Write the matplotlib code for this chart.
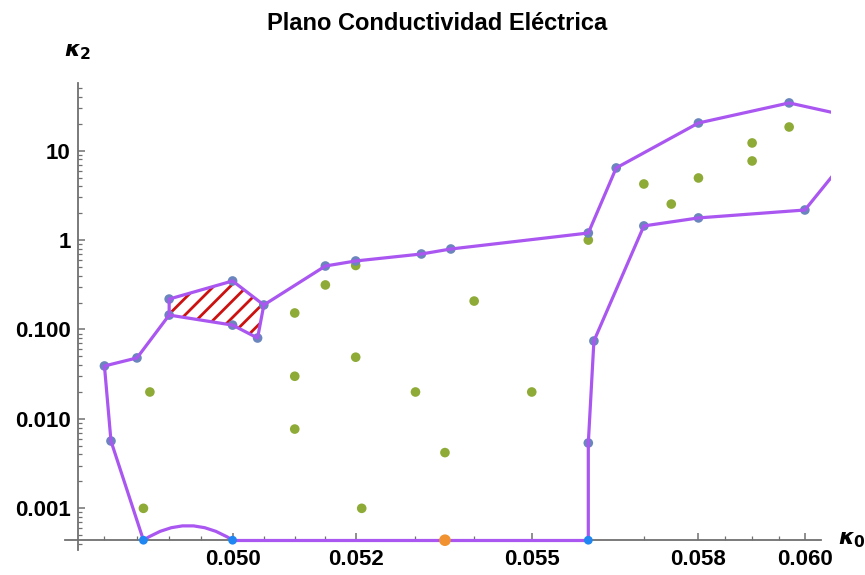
import matplotlib.pyplot as plt
from matplotlib.patches import Polygon, PathPatch
from matplotlib.path import Path
from matplotlib.ticker import FixedLocator, FixedFormatter, NullFormatter, LogLocator
import numpy as np

plt.rcParams['font.family'] = ['Liberation Sans', 'DejaVu Sans']
plt.rcParams['font.weight'] = 'bold'
plt.rcParams['hatch.linewidth'] = 2.0

# valor de k2 donde se dibuja el eje (puntos con k2 = 0)
k2_piso = 0.00044

# muestras interiores
k0_verde = [0.0486, 0.0487, 0.0510, 0.0510, 0.0510, 0.0515, 0.0520, 0.0520, 0.0521, 0.0530,
            0.0535, 0.0540, 0.0550, 0.0560, 0.0570, 0.0575, 0.0580, 0.0590, 0.0590, 0.0597]
k2_verde = [0.0010, 0.020, 0.153, 0.030, 0.0077, 0.315, 0.52, 0.049, 0.0010, 0.020,
            0.0042, 0.208, 0.020, 1.00, 4.24, 2.53, 4.95, 12.2, 7.67, 18.4]

# frontera superior, de derecha a izquierda hasta el eje
k0_sup = [0.0610, 0.0597, 0.0580, 0.0565, 0.0560, 0.0536, 0.0531, 0.0520, 0.0515,
          0.0505, 0.0500, 0.0490, 0.0490, 0.0485, 0.0480, 0.0481, 0.0486]
k2_sup = [23.3, 34.2, 20.4, 6.41, 1.20, 0.795, 0.699, 0.584, 0.513,
          0.188, 0.349, 0.219, 0.145, 0.0481, 0.0391, 0.00566, k2_piso]

# cierre inferior del lazo rayado
k0_lazo = [0.0490, 0.0500, 0.0504, 0.0505]
k2_lazo = [0.145, 0.112, 0.0803, 0.188]

# frontera inferior derecha
k0_inf = [0.0560, 0.0560, 0.0561, 0.0570, 0.0580, 0.0600, 0.0610]
k2_inf = [k2_piso, 0.00538, 0.0744, 1.44, 1.77, 2.17, 11.3]

# tramo sobre el eje y arco entre 0.0486 y 0.0500
k0_base = [0.0500, 0.0560]
k0_arco = [0.0486, 0.0500]
k2_arco_max = 0.00064

k0_eje_azul = [0.0486, 0.0500, 0.0560]
k0_eje_naranja = [0.0535]

x_ticks = [0.050, 0.052, 0.055, 0.058, 0.060]
x_labels = ['0.050', '0.052', '0.055', '0.058', '0.060']
x_minor = [0.048, 0.0485, 0.049, 0.0495, 0.0505, 0.051, 0.0515, 0.053, 0.054,
           0.056, 0.057, 0.0585, 0.059, 0.0595]
y_ticks = [0.001, 0.01, 0.1, 1, 10]
y_labels = ['0.001', '0.010', '0.100', '1', '10']

morado = '#a957f0'
azul_gris = '#6a86bd'

fig = plt.figure(figsize=(8.65, 5.75), dpi=100)
ax = fig.add_axes([0.0751, 0.0431, 0.8855, 0.8124])
ax.set_xscale('log')
ax.set_yscale('log')
ax.set_xlim(0.0474, 0.0605)
ax.set_ylim(0.00034, 57)

# zona rayada
lazo = list(zip(k0_sup[9:13], k2_sup[9:13])) + list(zip(k0_lazo[1:3], k2_lazo[1:3]))
ax.add_patch(Polygon(lazo, closed=True, facecolor='none', edgecolor='#cc1111',
                     linewidth=0, hatch='//', zorder=1))

# puntos
ax.scatter(k0_verde, k2_verde, s=48, color='#8dab36', edgecolors='none', zorder=2)
ax.scatter(k0_sup[1:-1] + k0_lazo[1:3] + k0_inf[1:-1],
           k2_sup[1:-1] + k2_lazo[1:3] + k2_inf[1:-1],
           s=48, color=azul_gris, edgecolors='none', zorder=2)

# fronteras
lw = 2.3
ax.plot(k0_sup, k2_sup, color=morado, lw=lw, zorder=3, solid_joinstyle='round')
ax.plot(k0_lazo, k2_lazo, color=morado, lw=lw, zorder=3, solid_joinstyle='round')
ax.plot(k0_inf, k2_inf, color=morado, lw=lw, zorder=3, solid_joinstyle='round')
ax.plot(k0_base, [k2_piso, k2_piso], color=morado, lw=lw, zorder=3)

# arco cuadrático (el punto de control se calcula en escala log)
k0_medio = np.sqrt(k0_arco[0] * k0_arco[1])
k2_ctrl = 10 ** (2 * np.log10(k2_arco_max) - np.log10(k2_piso))
arco = Path([(k0_arco[0], k2_piso), (k0_medio, k2_ctrl), (k0_arco[1], k2_piso)],
            [Path.MOVETO, Path.CURVE3, Path.CURVE3])
ax.add_patch(PathPatch(arco, facecolor='none', edgecolor=morado, lw=lw, zorder=3))

ax.scatter(k0_eje_azul, [k2_piso] * len(k0_eje_azul), s=40, color='#1f86f2',
           edgecolors='none', zorder=4, clip_on=False)
ax.scatter(k0_eje_naranja, [k2_piso] * len(k0_eje_naranja), s=70, color='#f0922f',
           edgecolors='none', zorder=4, clip_on=False)

# ejes estilo cruzado
for s in ['top', 'right']:
    ax.spines[s].set_visible(False)
ax.spines['left'].set_position(('data', 0.04759))
ax.spines['bottom'].set_position(('data', k2_piso))
ax.spines['bottom'].set_bounds(0.0474, 0.0603)
for s in ['left', 'bottom']:
    ax.spines[s].set_color('#707070')
    ax.spines[s].set_linewidth(1.3)

ax.xaxis.set_major_locator(FixedLocator(x_ticks))
ax.xaxis.set_major_formatter(FixedFormatter(x_labels))
ax.xaxis.set_minor_locator(FixedLocator(x_minor))
ax.xaxis.set_minor_formatter(NullFormatter())
ax.yaxis.set_major_locator(FixedLocator(y_ticks))
ax.yaxis.set_major_formatter(FixedFormatter(y_labels))
ax.yaxis.set_minor_locator(LogLocator(base=10, subs=range(2, 10)))
ax.yaxis.set_minor_formatter(NullFormatter())

ax.tick_params(which='both', direction='in', color='#707070', labelcolor='black',
               labelsize=16)
ax.tick_params(which='major', length=5, width=1.1)
ax.tick_params(which='minor', length=3, width=0.9)
ax.tick_params(axis='x', pad=6)
ax.tick_params(axis='y', pad=5)

fig.text(437 / 865, 1 - 24 / 575, 'Plano Conductividad Eléctrica', fontsize=17,
         fontweight='bold', ha='center', va='center')
fig.text(78 / 865, 1 - 52 / 575, r'$\kappa_2$', fontsize=16, ha='center', va='center')
fig.text(852 / 865, 1 - 540 / 575, r'$\kappa_0$', fontsize=16, ha='center', va='center')

fig.savefig('out.png', dpi=100)
